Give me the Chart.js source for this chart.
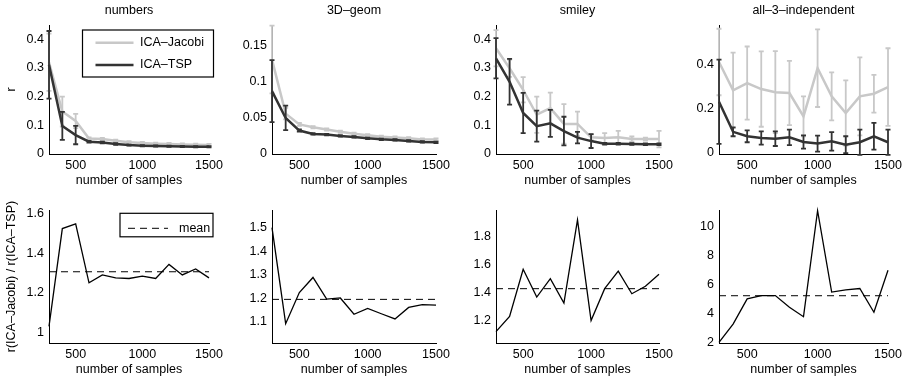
<!DOCTYPE html>
<html>
<head>
<meta charset="utf-8">
<script src="https://cdn.jsdelivr.net/npm/chart.js@4.4.0/dist/chart.umd.min.js"></script>
<style>
  body { margin: 0; width: 909px; height: 381px; background: #fff; position: relative; overflow: hidden; }
  canvas { position: absolute; }
</style>
</head>
<body>
<script>
// ---- data ----
const samples = [300, 400, 500, 600, 700, 800, 900, 1000, 1100, 1200, 1300, 1400, 1500];
const xTickValues = [500, 1000, 1500];
const panelTitles = ["numbers", "3D–geom", "smiley", "all–3–independent"];

// numbers
const numbersTsp = [0.311, 0.098, 0.066, 0.043, 0.040, 0.035, 0.031, 0.029, 0.028, 0.027, 0.026, 0.025, 0.025];
const numbersTspErr = [0.118, 0.049, 0.032, 0.003, 0.003, 0.003, 0.002, 0.002, 0.002, 0.002, 0.002, 0.002, 0.002];
const numbersJacobi = [0.32, 0.148, 0.115, 0.054, 0.052, 0.046, 0.041, 0.038, 0.036, 0.035, 0.033, 0.032, 0.031];
const numbersJacobiErr = [0.10, 0.052, 0.025, 0.004, 0.004, 0.004, 0.004, 0.004, 0.004, 0.004, 0.004, 0.004, 0.004];
const numbersRatio = [1.03, 1.524, 1.548, 1.25, 1.29, 1.275, 1.272, 1.284, 1.272, 1.343, 1.29, 1.32, 1.275];
const numbersMean = 1.306;

// 3D-geom
const geomTsp = [0.0873, 0.050, 0.0325, 0.0279, 0.027, 0.025, 0.0237, 0.0218, 0.0204, 0.0195, 0.0181, 0.0167, 0.0162];
const geomTspErr = [0.043, 0.017, 0.0015, 0.001, 0.001, 0.001, 0.001, 0.001, 0.001, 0.001, 0.001, 0.001, 0.001];
const geomJacobi = [0.131, 0.056, 0.041, 0.037, 0.034, 0.031, 0.028, 0.026, 0.024, 0.023, 0.022, 0.020, 0.020];
const geomJacobiErr = [0.047, 0.008, 0.002, 0.0015, 0.0015, 0.0015, 0.0015, 0.0015, 0.0015, 0.0015, 0.0015, 0.0015, 0.0015];
const geomRatio = [1.5, 1.093, 1.225, 1.289, 1.197, 1.202, 1.133, 1.158, 1.135, 1.113, 1.162, 1.174, 1.172];
const geomMean = 1.196;

// smiley
const smileyTsp = [0.334, 0.252, 0.143, 0.097, 0.107, 0.080, 0.057, 0.045, 0.036, 0.036, 0.035, 0.034, 0.034];
const smileyTspErr = [0.07, 0.08, 0.07, 0.054, 0.047, 0.05, 0.02, 0.024, 0.003, 0.003, 0.003, 0.003, 0.003];
const smileyJacobi = [0.369, 0.299, 0.224, 0.137, 0.16, 0.105, 0.105, 0.058, 0.056, 0.058, 0.052, 0.052, 0.052];
const smileyJacobiErr = [0.063, 0.03, 0.044, 0.063, 0.054, 0.069, 0.043, 0.01, 0.017, 0.023, 0.009, 0.005, 0.029];
const smileyRatio = [1.121, 1.229, 1.567, 1.368, 1.50, 1.325, 1.92, 1.2, 1.428, 1.553, 1.392, 1.445, 1.531];
const smileyMean = 1.428;

// all-3-independent
const indepTsp = [0.231, 0.095, 0.075, 0.067, 0.064, 0.07, 0.049, 0.042, 0.052, 0.037, 0.048, 0.075, 0.048];
const indepTspErr = [0.19, 0.02, 0.027, 0.03, 0.033, 0.035, 0.03, 0.036, 0.042, 0.038, 0.057, 0.06, 0.057];
const indepJacobi = [0.41, 0.282, 0.315, 0.288, 0.274, 0.27, 0.165, 0.382, 0.255, 0.18, 0.255, 0.267, 0.297];
const indepJacobiErr = [0.15, 0.17, 0.165, 0.17, 0.185, 0.145, 0.09, 0.175, 0.108, 0.147, 0.176, 0.085, 0.175];
const indepRatio = [2.0, 3.27, 5.01, 5.24, 5.24, 4.43, 3.78, 11.11, 5.48, 5.64, 5.73, 4.09, 6.99];
const indepMean = 5.23;

// axis ticks and limits
const rTicks = [[0, 0.1, 0.2, 0.3, 0.4], [0, 0.05, 0.1, 0.15], [0, 0.1, 0.2, 0.3, 0.4], [0, 0.2, 0.4]];
const rLimits = [[0, 0.45], [0, 0.179], [0, 0.45], [-0.005, 0.577]];
const ratioTicks = [[1, 1.2, 1.4, 1.6], [1.1, 1.2, 1.3, 1.4, 1.5], [1.2, 1.4, 1.6, 1.8], [2, 4, 6, 8, 10]];
const ratioLimits = [[0.946, 1.618], [1.011, 1.575], [1.04, 1.99], [1.96, 11.16]];

// ---- layout ----
const colLeft = [49, 272, 496, 719];
const colWidth = [160, 164, 163, 169];
const rowTop = [25, 210];
const rowHeight = [129, 133];
const AXIS_W = 48, AXIS_H = 36, PAD_R = 24;
const FONT = { family: "'Liberation Sans', Arial, Helvetica, sans-serif", size: 12.5 };
const DARK = "#333333", LIGHT = "#c8c8c8";

const pts = (vals) => samples.map((s, i) => ({ x: s, y: vals[i] }));

// draws error bars just before each line so they sit under it
const errorBars = {
  id: "errorBars",
  beforeDatasetDraw(chart, args) {
    const ds = chart.data.datasets[args.index];
    if (!ds.errors) return;
    const { ctx } = chart;
    const xs = chart.scales.x, ys = chart.scales.y;
    ctx.save();
    ctx.strokeStyle = ds.borderColor;
    ctx.lineWidth = 1.8;
    ds.data.forEach((p, i) => {
      const px = xs.getPixelForValue(p.x);
      const lo = ys.getPixelForValue(p.y - ds.errors[i]);
      const hi = ys.getPixelForValue(p.y + ds.errors[i]);
      ctx.beginPath();
      ctx.moveTo(px, lo); ctx.lineTo(px, hi);
      ctx.moveTo(px - 2.5, lo); ctx.lineTo(px + 2.5, lo);
      ctx.moveTo(px - 2.5, hi); ctx.lineTo(px + 2.5, hi);
      ctx.stroke();
    });
    ctx.restore();
  }
};

const panelTitle = {
  id: "panelTitle",
  afterDraw(chart, args, opts) {
    if (!opts.text) return;
    const { ctx, chartArea } = chart;
    ctx.save();
    ctx.font = `${FONT.size}px ${FONT.family}`;
    ctx.fillStyle = "#000";
    ctx.textAlign = "center";
    ctx.textBaseline = "middle";
    ctx.fillText(opts.text, (chartArea.left + chartArea.right) / 2, chartArea.top - 14);
    ctx.restore();
  }
};

// boxed legend inside the axes, like the original
const boxLegend = {
  id: "boxLegend",
  afterDatasetsDraw(chart, args, opts) {
    if (!opts.items) return;
    const { ctx, chartArea } = chart;
    const x0 = chartArea.left + opts.x, y0 = chartArea.top + opts.y;
    ctx.save();
    ctx.fillStyle = "#fff";
    ctx.fillRect(x0, y0, opts.w, opts.h);
    ctx.strokeStyle = "#000";
    ctx.lineWidth = 1.2;
    ctx.strokeRect(x0, y0, opts.w, opts.h);
    ctx.font = `${FONT.size}px ${FONT.family}`;
    ctx.textBaseline = "middle";
    opts.items.forEach((it, i) => {
      const y = chartArea.top + opts.rows[i];
      ctx.strokeStyle = it.color;
      ctx.lineWidth = it.width;
      ctx.setLineDash(it.dash || []);
      ctx.beginPath();
      ctx.moveTo(chartArea.left + opts.line[0], y);
      ctx.lineTo(chartArea.left + opts.line[1], y);
      ctx.stroke();
      ctx.setLineDash([]);
      ctx.fillStyle = "#000";
      ctx.fillText(it.label, chartArea.left + opts.textX, y);
    });
    ctx.restore();
  }
};

function makePanel(col, row, datasets, yTicks, yLimits, yTitle, legend) {
  const padTop = row === 0 ? 25 : 10;
  const w = AXIS_W + colWidth[col] + PAD_R;
  const h = padTop + rowHeight[row] + AXIS_H;
  const canvas = document.createElement("canvas");
  canvas.width = w; canvas.height = h;
  canvas.style.width = w + "px"; canvas.style.height = h + "px";
  canvas.style.left = (colLeft[col] - AXIS_W) + "px";
  canvas.style.top = (rowTop[row] - padTop) + "px";
  document.body.appendChild(canvas);

  new Chart(canvas, {
    type: "line",
    data: { datasets },
    plugins: [errorBars, panelTitle, boxLegend],
    options: {
      responsive: false,
      animation: false,
      devicePixelRatio: 1,
      layout: { padding: { left: 0, right: PAD_R, top: padTop, bottom: 0 } },
      elements: { point: { radius: 0 }, line: { tension: 0 } },
      plugins: {
        legend: { display: false },
        tooltip: { enabled: false },
        panelTitle: { text: row === 0 ? panelTitles[col] : "" },
        boxLegend: legend || {}
      },
      scales: {
        x: {
          type: "linear",
          min: 300,
          max: 1500,
          afterBuildTicks: (s) => { s.ticks = xTickValues.map((v) => ({ value: v })); },
          afterFit: (s) => { s.height = AXIS_H; s.paddingLeft = 0; s.paddingRight = 0; },
          grid: { display: false, drawTicks: false },
          border: { display: true, color: "#000", width: 1 },
          ticks: { padding: 4, color: "#000", font: FONT, maxRotation: 0, autoSkip: false, callback: (v) => String(v) },
          title: { display: true, text: "number of samples", color: "#000", font: FONT, padding: { top: 0, bottom: 2 } }
        },
        y: {
          type: "linear",
          min: yLimits[0],
          max: yLimits[1],
          afterBuildTicks: (s) => { s.ticks = yTicks.map((v) => ({ value: v })); },
          afterFit: (s) => { s.width = AXIS_W; s.paddingTop = 0; s.paddingBottom = 0; },
          grid: { display: false, drawTicks: false },
          border: { display: true, color: "#000", width: 1 },
          ticks: { padding: 5, color: "#000", font: FONT, autoSkip: false, callback: (v) => String(v) },
          title: { display: !!yTitle, text: yTitle || "", color: "#000", font: FONT, padding: { top: 3, bottom: 0 } }
        }
      }
    }
  });
}

const rSets = [
  [numbersTsp, numbersTspErr, numbersJacobi, numbersJacobiErr],
  [geomTsp, geomTspErr, geomJacobi, geomJacobiErr],
  [smileyTsp, smileyTspErr, smileyJacobi, smileyJacobiErr],
  [indepTsp, indepTspErr, indepJacobi, indepJacobiErr]
];
const ratioSets = [[numbersRatio, numbersMean], [geomRatio, geomMean], [smileyRatio, smileyMean], [indepRatio, indepMean]];

rSets.forEach(([tsp, tspErr, jac, jacErr], col) => {
  makePanel(col, 0, [
    { label: "ICA–TSP", data: pts(tsp), errors: tspErr, borderColor: DARK, borderWidth: 2.5, clip: false },
    { label: "ICA–Jacobi", data: pts(jac), errors: jacErr, borderColor: LIGHT, borderWidth: 2.5, clip: false }
  ], rTicks[col], rLimits[col], col === 0 ? "r" : "", col === 0 ? {
    x: 33.5, y: 5, w: 131, h: 47,
    line: [46.5, 84.5], textX: 91, rows: [17.7, 40],
    items: [
      { label: "ICA–Jacobi", color: LIGHT, width: 2.5 },
      { label: "ICA–TSP", color: DARK, width: 2.5 }
    ]
  } : null);
});

ratioSets.forEach(([ratio, mean], col) => {
  makePanel(col, 1, [
    { label: "ratio", data: pts(ratio), borderColor: "#000", borderWidth: 1.3, clip: false },
    { label: "mean", data: [{ x: samples[0], y: mean }, { x: samples[samples.length - 1], y: mean }], borderColor: "#000", borderWidth: 1, borderDash: [7, 5], clip: false }
  ], ratioTicks[col], ratioLimits[col], col === 0 ? "r(ICA–Jacobi) / r(ICA–TSP)" : "", col === 0 ? {
    x: 71, y: 3.3, w: 93, h: 23.5,
    line: [79, 119], textX: 130, rows: [18.3],
    items: [{ label: "mean", color: "#000", width: 1, dash: [7, 5] }]
  } : null);
});
</script>
</body>
</html>
